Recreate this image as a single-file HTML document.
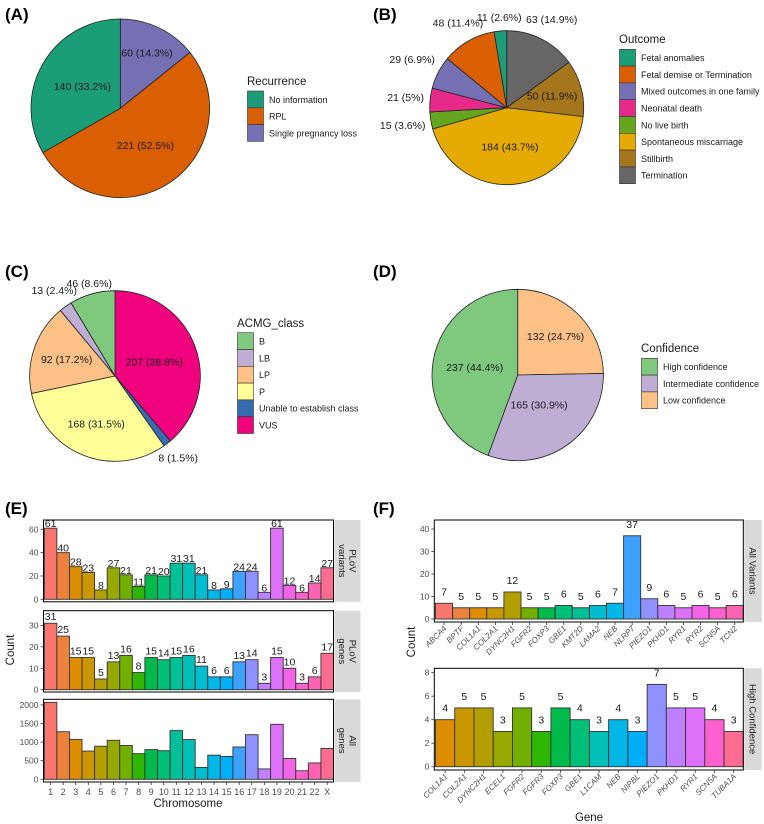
<!DOCTYPE html>
<html><head><meta charset="utf-8">
<style>
html,body{margin:0;padding:0;background:#fff;}
svg{display:block;font-family:"Liberation Sans",sans-serif;}
</style></head>
<body>
<svg id="fig" width="764" height="824" viewBox="0 0 764 824" xmlns="http://www.w3.org/2000/svg"></svg>
<script>
// ---------- Pie data ----------
const pieALabels = ["No information","RPL","Single pregnancy loss"];
const pieAValues = [140,221,60];
const pieAText = ["140 (33.2%)","221 (52.5%)","60 (14.3%)"];
const pieBLabels = ["Fetal anomalies","Fetal demise or Termination","Mixed outcomes in one family","Neonatal death","No live birth","Spontaneous miscarriage","Stillbirth","Termination"];
const pieBValues = [11,48,29,21,15,184,50,63];
const pieBText = ["11 (2.6%)","48 (11.4%)","29 (6.9%)","21 (5%)","15 (3.6%)","184 (43.7%)","50 (11.9%)","63 (14.9%)"];
const pieCLabels = ["B","LB","LP","P","Unable to establish class","VUS"];
const pieCValues = [46,13,92,168,8,207];
const pieCText = ["46 (8.6%)","13 (2.4%)","92 (17.2%)","168 (31.5%)","8 (1.5%)","207 (38.8%)"];
const pieDLabels = ["High confidence","Intermediate confidence","Low confidence"];
const pieDValues = [237,165,132];
const pieDText = ["237 (44.4%)","165 (30.9%)","132 (24.7%)"];

// ---------- Bar data (E) ----------
const chromosomes = ["1","2","3","4","5","6","7","8","9","10","11","12","13","14","15","16","17","18","19","20","21","22","X"];
const plovVariants = [61,40,28,23,8,27,21,11,21,20,31,31,21,8,9,24,24,6,61,12,6,14,27];
const plovGenes = [31,25,15,15,5,13,16,8,15,14,15,16,11,6,6,13,14,3,15,10,3,6,17];
const allGenes = [2070,1280,1075,760,890,1050,910,690,800,770,1310,1070,320,650,615,870,1200,280,1480,560,230,440,830];
const ticksE1 = [0,20,40,60];
const ticksE2 = [0,10,20,30];
const ticksE3 = [0,500,1000,1500,2000];

// ---------- Bar data (F) ----------
const allGeneNames = ["ABCA4","BPTF","COL1A1","COL2A1","DYNC2H1","ECEL1","FGFR2","FGFR3","FOXP3","GBE1","KMT2D","L1CAM","LAMA2","NEB","NIPBL","NLRP7","PIEZO1","PKHD1","RYR1","RYR2","SCN5A","TCN2","TUBA1A"];
const fAllGenes = ["ABCA4","BPTF","COL1A1","COL2A1","DYNC2H1","FGFR2","FOXP3","GBE1","KMT2D","LAMA2","NEB","NLRP7","PIEZO1","PKHD1","RYR1","RYR2","SCN5A","TCN2"];
const fAllCounts = [7,5,5,5,12,5,5,6,5,6,7,37,9,6,5,6,5,6];
const fHighGenes = ["COL1A1","COL2A1","DYNC2H1","ECEL1","FGFR2","FGFR3","FOXP3","GBE1","L1CAM","NEB","NIPBL","PIEZO1","PKHD1","RYR1","SCN5A","TUBA1A"];
const fHighCounts = [4,5,5,3,5,3,5,4,3,4,3,7,5,5,4,3];
const ticksF1 = [0,10,20,30,40];
const ticksF2 = [0,2,4,6,8];

const NS="http://www.w3.org/2000/svg";
const svg=document.getElementById('fig');
function mk(tag,attrs,parent,txt){const e=document.createElementNS(NS,tag);for(const k in attrs)e.setAttribute(k,attrs[k]);if(txt!==undefined)e.textContent=txt;(parent||svg).appendChild(e);return e;}

function hcl(h){const L=65,C=100;const hr=h*Math.PI/180;const u=C*Math.cos(hr),v=C*Math.sin(hr);
const Xn=95.047,Yn=100,Zn=108.883;const un=4*Xn/(Xn+15*Yn+3*Zn),vn=9*Yn/(Xn+15*Yn+3*Zn);
const Y=Yn*Math.pow((L+16)/116,3);const up=u/(13*L)+un,vp=v/(13*L)+vn;
const X=9*Y*up/(4*vp),Z=(12-3*up-20*vp)*Y/(4*vp);
const x=X/100,y=Y/100,z=Z/100;
let r=3.2404542*x-1.5371385*y-0.4985314*z,g=-0.9692660*x+1.8760108*y+0.0415560*z,b=0.0556434*x-0.2040259*y+1.0572252*z;
const gm=c=>{c=c<=0.0031308?12.92*c:1.055*Math.pow(c,1/2.4)-0.055;return Math.round(Math.max(0,Math.min(1,c))*255);};
return `rgb(${gm(r)},${gm(g)},${gm(b)})`;}
function huePal(n){const out=[];for(let i=0;i<n;i++)out.push(hcl(15+360*i/n));return out;}

[["(A)",5,20],["(B)",373,20],["(C)",5,277],["(D)",373,277],["(E)",5,514],["(F)",373,514]].forEach(t=>{
  const e=mk('text',{x:t[1],y:t[2],'font-size':17,'font-weight':'bold',fill:'#000'},svg,t[0]);
  
  
});

function pie(id,cx,cy,r,labels,values,texts,colors,rfrac,legend){
  const g=mk('g',{});
  
  
  const tot=values.reduce((a,b)=>a+b,0);
  let a0=0;
  for(let k=values.length-1;k>=0;k--){
    const a1=a0+values[k]/tot*2*Math.PI;
    const p=(a)=>[cx+r*Math.sin(a),cy-r*Math.cos(a)];
    const [x0,y0]=p(a0),[x1,y1]=p(a1);
    const large=(a1-a0)>Math.PI?1:0;
    const s=mk('path',{d:`M${cx},${cy} L${x0},${y0} A${r},${r} 0 ${large} 1 ${x1},${y1} Z`,fill:colors[k],stroke:'#222','stroke-width':0.8},g);
    
    
    const am=(a0+a1)/2,rr=r*rfrac[k];
    const t=mk('text',{x:cx+rr*Math.sin(am),y:cy-rr*Math.cos(am)+3.7,'text-anchor':'middle','font-size':10.5,fill:'#1a1a1a'},g,texts[k]);
    
    
    a0=a1;
  }
  const lg=mk('g',{});
  
  
  const tt=mk('text',{x:legend.x,y:legend.y,'font-size':11.5,fill:'#1a1a1a'},lg,legend.title);
  
  
  labels.forEach((lb,i)=>{
    const y=legend.ky+i*16.8;
    const rc=mk('rect',{x:legend.x+0.5,y:y,width:16,height:16.8,fill:colors[i],stroke:'#333','stroke-width':0.6},lg);
    
    
    const tx=mk('text',{x:legend.x+22,y:y+11.8,'font-size':9,fill:'#1a1a1a'},lg,lb);
    
    
  });
}
pie('recurrence',120.3,108.3,89.3,pieALabels,pieAValues,pieAText,["#1B9E77","#D95F02","#7570B3"],[0.49,0.5,0.69],{x:247,y:85,ky:91,title:"Recurrence"});
pie('outcome',506.7,107.7,77,pieBLabels,pieBValues,pieBText,["#1B9E77","#D95F02","#7570B3","#E7298A","#66A61E","#E6AB02","#A6761D","#666666"],[1.18,1.27,1.38,1.32,1.37,0.51,0.61,1.29],{x:619,y:43,ky:49.3,title:"Outcome"});
pie('acmg',115,376,85.3,pieCLabels,pieCValues,pieCText,["#7FC97F","#BEAED4","#FDC086","#FFFF99","#386CB0","#F0027F"],[1.13,1.23,0.6,0.6,1.21,0.49],{x:237,y:327,ky:332.7,title:"ACMG_class"});
pie('confidence',517.7,375,85.7,pieDLabels,pieDValues,pieDText,["#7FC97F","#BEAED4","#FDC086"],[0.51,0.43,0.63],{x:641,y:352,ky:358.3,title:"Confidence"});

function barPanel(o){
  const g=mk('g',{});
  
  
  const y=v=>o.zero-(v)*(o.zero-o.top)/(o.dmax);
  const n=o.values.length;const bw=(o.x1-o.x0)/n;
  const xb=i=>o.x0+i*bw;
  o.values.forEach((v,i)=>{
    const r=mk('rect',{x:xb(i),y:y(v),width:bw,height:o.zero-y(v),fill:o.colors[i],stroke:'#333','stroke-width':0.9},g);
    
    
    if(o.showVals){
      const t=mk('text',{x:xb(i)+bw/2,y:y(v)-o.off,'text-anchor':'middle','font-size':o.vfs,fill:'#1a1a1a'},g,String(v));
      
      
    }
  });
  const fr=mk('rect',{x:o.fx0,y:o.top,width:o.x1-o.fx0,height:o.bottom-o.top,fill:'none',stroke:'#000','stroke-width':1},g);
  
  
  o.ticks.forEach(tv=>{
    const yy=y(tv);
    mk('line',{x1:o.fx0-3,x2:o.fx0,y1:yy,y2:yy,stroke:'#333','stroke-width':0.8},g);
    const t=mk('text',{x:o.fx0-5,y:yy+3,'text-anchor':'end','font-size':8.5,fill:'#4d4d4d'},g,String(tv));
    
    
  });
  const st=mk('rect',{x:o.x1+1,y:o.top,width:o.sw,height:o.bottom-o.top,fill:'#d9d9d9'},g);
  
  
  const cx=o.x1+1+o.sw/2,cy=(o.top+o.bottom)/2;
  const lines=o.strip.split('\n');
  const tg=mk('text',{transform:`translate(${cx},${cy}) rotate(90)`,'text-anchor':'middle','font-size':9.5,fill:'#1a1a1a'},g);
  
  
  lines.forEach((l,i)=>{mk('tspan',{x:0,y:(i-(lines.length-1)/2)*10.5+3.3},tg,l);});
  if(o.xlabels){
    o.cats.forEach((c,i)=>{
      const xx=xb(i)+bw/2;
      mk('line',{x1:xx,x2:xx,y1:o.bottom,y2:o.bottom+3,stroke:'#333','stroke-width':0.8},g);
      if(o.rot){
        const t=mk('text',{transform:`translate(${xx+3},${o.bottom+7}) rotate(-45)`,'text-anchor':'end','font-size':8,'font-style':'italic',fill:'#4d4d4d'},g,c);
        
        
      } else {
        const t=mk('text',{x:xx,y:o.bottom+13,'text-anchor':'middle','font-size':9,fill:'#4d4d4d'},g,c);
        
        
      }
    });
  }
}
const palE=huePal(chromosomes.length);
const common={fx0:43.5,x0:44.3,x1:333.5,sw:26,cats:chromosomes,colors:palE};
barPanel(Object.assign({},common,{name:'plov-variants-panel',values:plovVariants,top:520,zero:599.3,bottom:601.8,dmax:68,ticks:ticksE1,strip:'PLoV\nvariants',showVals:true,off:1,vfs:10.5}));
barPanel(Object.assign({},common,{name:'plov-genes-panel',values:plovGenes,top:610.7,zero:689.7,bottom:692,dmax:36.85,ticks:ticksE2,strip:'PLoV\ngenes',showVals:true,off:3,vfs:10.5}));
barPanel(Object.assign({},common,{name:'all-genes-panel',values:allGenes,top:699.3,zero:779.3,bottom:782,dmax:2153,ticks:ticksE3,strip:'All\ngenes',showVals:false,xlabels:true}));

const palF=huePal(allGeneNames.length);
const colF1=fAllGenes.map(gn=>palF[allGeneNames.indexOf(gn)]);
const colF2=fHighGenes.map(gn=>palF[allGeneNames.indexOf(gn)]);
barPanel({name:'all-variants-panel',fx0:434.3,x0:435.5,x1:743.3,sw:17.5,cats:fAllGenes,colors:colF1,values:fAllCounts,top:520,zero:619,bottom:622,dmax:44,ticks:ticksF1,strip:'All Variants',showVals:true,off:8,vfs:10.5,xlabels:true,rot:true});
barPanel({name:'high-confidence-panel',fx0:434.3,x0:435.5,x1:743.3,sw:17.5,cats:fHighGenes,colors:colF2,values:fHighCounts,top:668.3,zero:766.7,bottom:770,dmax:8.37,ticks:ticksF2,strip:'High Confidence',showVals:true,off:8,vfs:10.5,xlabels:true,rot:true});

[["Chromosome",188,807,0,'x-axis-title-e'],["Count",14,650,-90,'y-axis-title-e'],["Count",415,642,-90,'y-axis-title-f'],["Gene",589,821,0,'x-axis-title-f']].forEach(a=>{
  const t=mk('text',{transform:`translate(${a[1]},${a[2]}) rotate(${a[3]})`,'text-anchor':'middle','font-size':11.5,fill:'#1a1a1a'},svg,a[0]);
  
  
});
</script>
</body></html>
